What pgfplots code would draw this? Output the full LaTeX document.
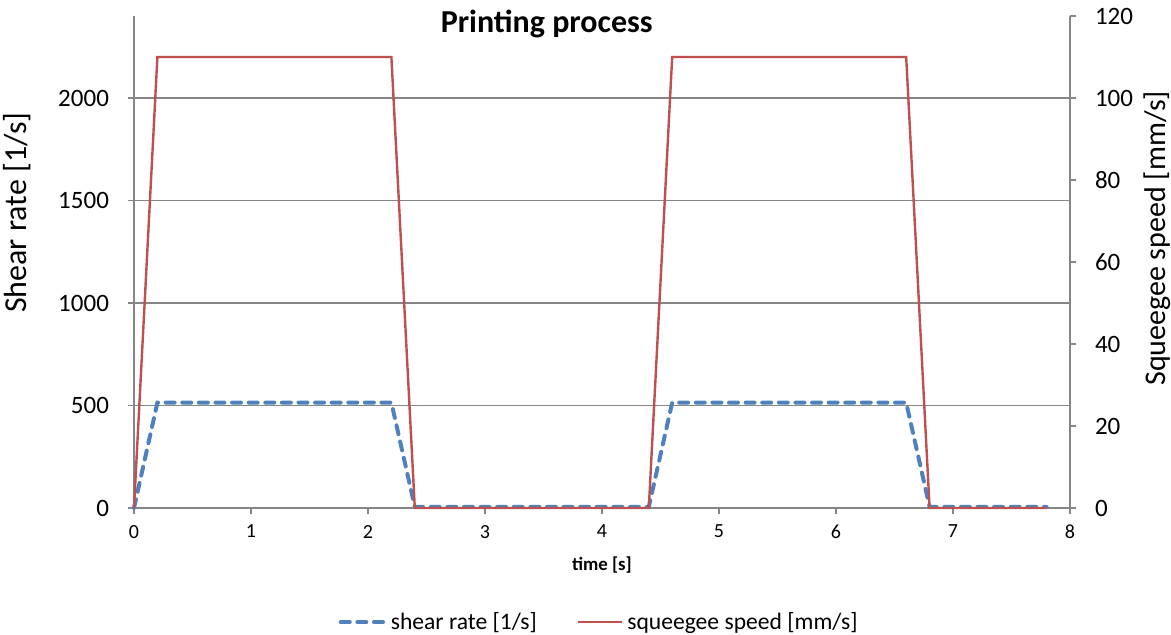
\documentclass[border=0pt]{standalone}
\usepackage{pgfplots}
\pgfplotsset{compat=1.18}
\usepackage{fontspec}
\setmainfont{Carlito}
\definecolor{exblue}{RGB}{79,129,189}
\definecolor{exred}{RGB}{192,80,77}
\definecolor{axgray}{RGB}{134,134,134}
\begin{document}
\begin{tikzpicture}
\useasboundingbox (-67pt,-63.5pt) rectangle (518.5pt,254pt);
\begin{axis}[
  at={(0,0)}, anchor=south west,
  scale only axis, width=468pt, height=246pt,
  xmin=0, xmax=8, ymin=0, ymax=2400,
  axis x line*=bottom, axis y line*=left,
  axis line style={axgray, line width=0.7pt},
  xtick={0,1,...,8}, ytick={0,500,...,2000},
  tick style={axgray, line width=0.7pt},
  tick align=outside, major tick length=3pt,
  ymajorgrids, grid style={axgray, line width=0.7pt},
  /pgf/number format/assume math mode=true,
  /pgf/number format/set thousands separator={},
  yticklabel style={font=\fontsize{12.5}{15}\selectfont, xshift=-6pt},
  xticklabel style={font=\fontsize{10}{12}\selectfont, yshift=-2pt},
  xlabel={\textbf{time [s]}},
  xlabel style={font=\fontsize{9.4}{11}\selectfont, at={(axis description cs:0.5,-0.116)}, anchor=center},
  ylabel={Shear rate [1/s]},
  ylabel style={font=\fontsize{16}{18}\selectfont, at={(axis description cs:-0.125,0.60)}, anchor=center},
  clip=false,
]
\addplot[exblue, line width=2pt, line cap=round, dash pattern=on 4.5pt off 3.8pt] coordinates {
 (0,0) (0.2,514) (2.2,514) (2.4,5) (4.4,5) (4.6,514) (6.6,514) (6.8,5) (7.8,5)};
\node[font=\fontsize{16}{19}\selectfont\bfseries] at (axis description cs:0.441,0.983) {Printing process};
\end{axis}
\begin{axis}[
  at={(0,0)}, anchor=south west,
  scale only axis, width=468pt, height=246pt,
  xmin=0, xmax=8, ymin=0, ymax=120,
  axis x line=none, axis y line*=right,
  axis line style={axgray, line width=0.7pt},
  ytick={0,20,...,120},
  tick style={axgray, line width=0.7pt},
  tick align=outside, major tick length=3pt,
  /pgf/number format/assume math mode=true,
  yticklabel style={font=\fontsize{12.5}{15}\selectfont, xshift=6pt},
  ylabel={Squeegee speed [mm/s]},
  ylabel style={font=\fontsize{15}{17}\selectfont, at={(axis description cs:1.093,0.548)}, anchor=center, rotate=0},
  legend style={draw=none, fill=none, at={(axis description cs:0.498,-0.232)}, anchor=center,
    font=\fontsize{11.8}{14}\selectfont, legend columns=2,
    /tikz/every even column/.append style={column sep=18pt}},
  legend image code/.code={\draw[#1] (0pt,0pt) -- (22pt,0pt);},
  clip=false,
]
\addlegendimage{exblue, line width=2pt, line cap=round, dash pattern=on 4.5pt off 3.8pt}
\addlegendentry{shear rate [1/s]}
\addplot[exred, line width=1.2pt] coordinates {
 (0,0) (0.2,110) (2.2,110) (2.4,0) (4.4,0) (4.6,110) (6.6,110) (6.8,0) (7.8,0)};
\addlegendentry{squeegee speed [mm/s]}
\end{axis}
\end{tikzpicture}
\end{document}
